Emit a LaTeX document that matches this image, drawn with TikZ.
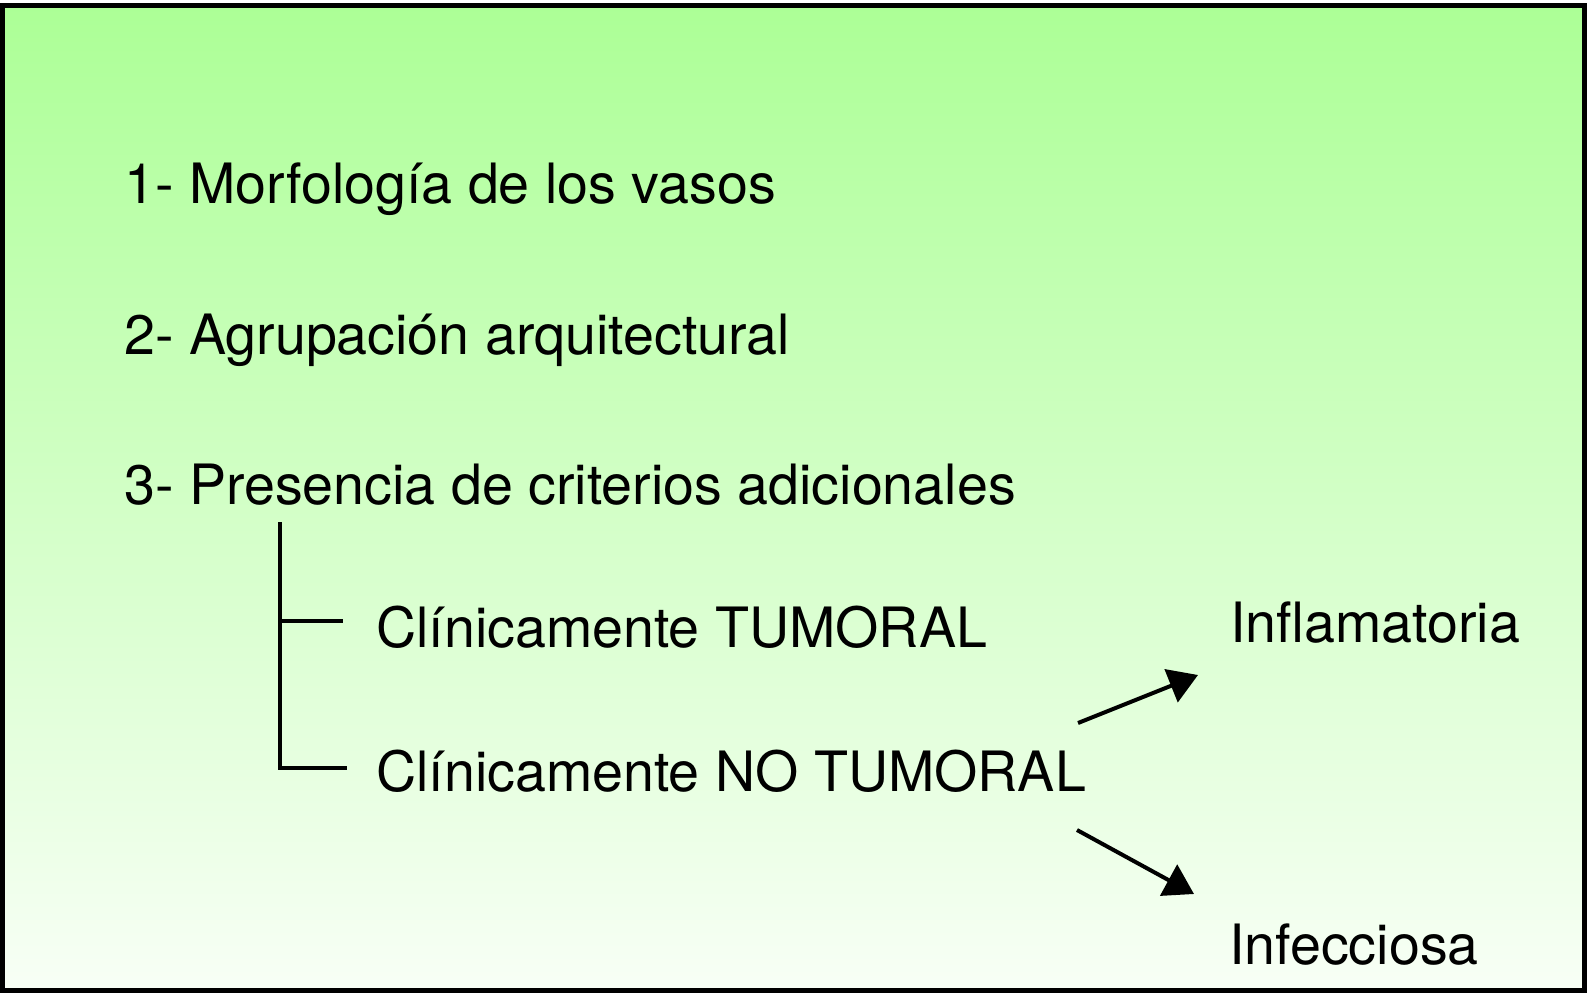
\documentclass[tikz,border=0pt]{standalone}
\usepackage{fontspec}
\setmainfont{TeX Gyre Heros}
\usetikzlibrary{arrows.meta}
\definecolor{topgreen}{RGB}{172,255,150}
\definecolor{botgreen}{RGB}{248,255,246}
\tikzset{
  lbl/.style={anchor=base west, inner sep=0pt, font=\fontsize{55.6}{60}\selectfont},
  conn/.style={line width=4pt, black},
  arr/.style={conn, -{Triangle[length=29pt,width=35pt]}}
}
\begin{document}
\begin{tikzpicture}[x=1pt,y=-1pt]
\useasboundingbox (0,0) rectangle (1590,993);
\fill[white] (0,0) rectangle (1590,993);
\shade[top color=topgreen, bottom color=botgreen] (2,5.5) rectangle (1584.5,990.5);
\draw[line width=5pt] (2,5.5) rectangle (1584.5,990.5);

\node[lbl] (t1) at (124,203) {1- Morfología de los vasos};
\node[lbl] (t2) at (124,354) {2- Agrupación arquitectural};
\node[lbl] (t3) at (124,504) {3- Presencia de criterios adicionales};
\node[lbl] (tum) at (376,647) {Clínicamente TUMORAL};
\node[lbl] (notum) at (376,791) {Clínicamente NO TUMORAL};
\node[lbl] (infl) at (1230,642) {Inflamatoria};
\node[lbl] (infe) at (1229,964) {Infecciosa};

\coordinate (b0) at (280,522);
\coordinate (b1) at (280,621);
\coordinate (b1e) at (343,621);
\coordinate (b2) at (280,768);
\coordinate (b2e) at (347,768);
\draw[conn] (b0) -- (b2) -- (b2e);
\draw[conn] (b1) -- (b1e);

\coordinate (a1s) at (1078,723);
\coordinate (a1e) at (1198,675);
\coordinate (a2s) at (1077,830);
\coordinate (a2e) at (1194,894);
\draw[arr] (a1s) -- (a1e);
\draw[arr] (a2s) -- (a2e);
\end{tikzpicture}
\end{document}
